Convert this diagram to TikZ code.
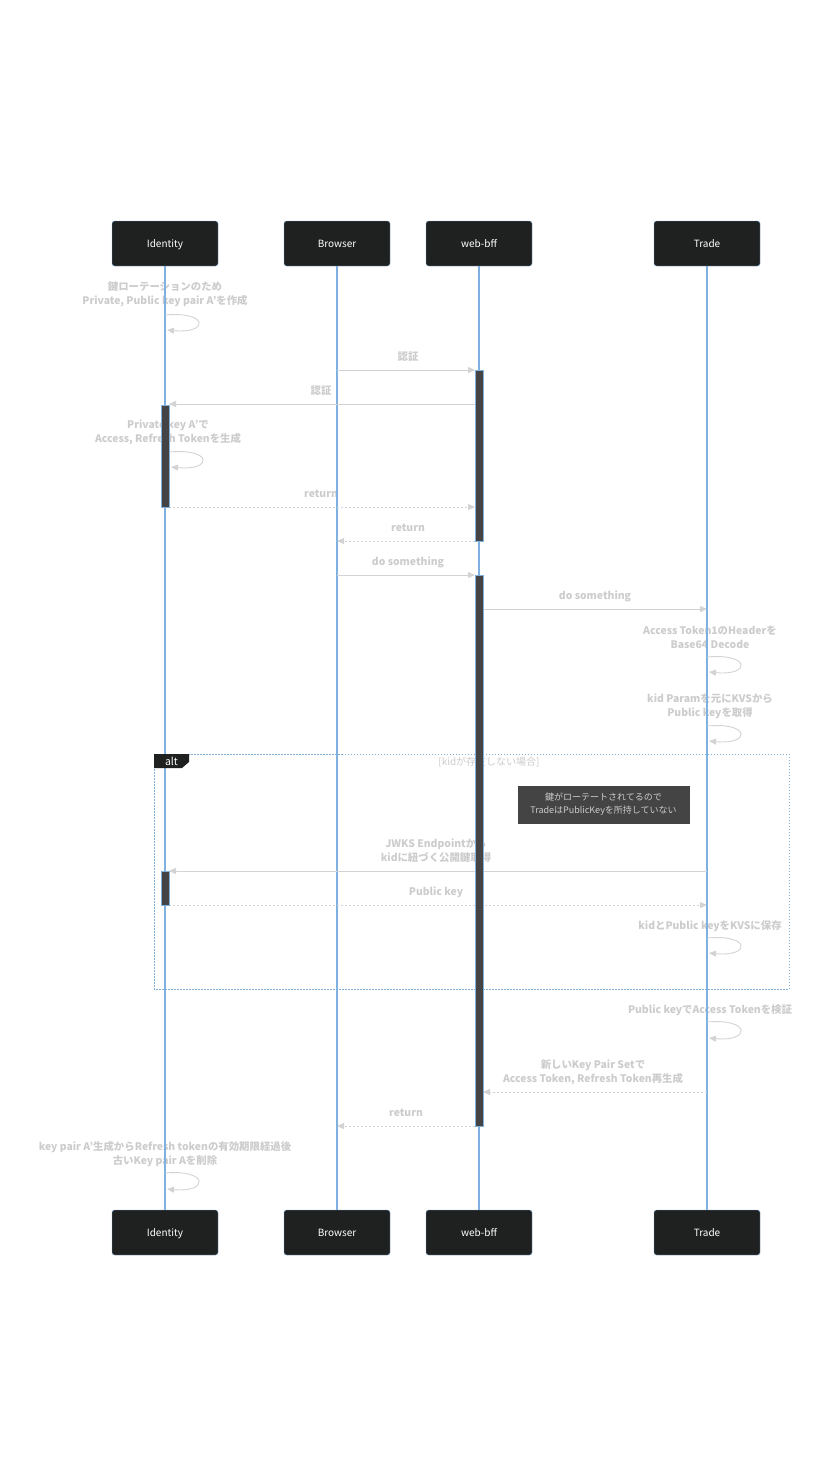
\documentclass[tikz,border=0pt]{standalone}
\usepackage{fontspec}
\setmainfont{Noto Sans CJK JP}
\usetikzlibrary{arrows.meta}
\definecolor{actfill}{HTML}{1F2020}
\definecolor{actborder}{HTML}{81B1DB}
\definecolor{lifeline}{HTML}{7EB0E2}
\definecolor{msgtxt}{HTML}{CCCCCC}
\definecolor{msgline}{HTML}{D3D3D3}
\definecolor{barfill}{HTML}{444444}
\tikzset{
  actor/.style={draw=actborder, fill=actfill, rounded corners=2.5pt, minimum width=106pt, minimum height=45pt, inner sep=0pt, text=white, font=\fontsize{10}{12}\selectfont, text depth=0pt, text height=7pt},
  msgtext/.style={text=msgtxt, align=center, inner sep=0pt, font=\bfseries\fontsize{10.4}{14}\selectfont},
  msg/.style={draw=msgline, line width=0.9pt, -{Triangle[length=7pt,width=6pt]}},
  reply/.style={msg, dash pattern=on 2pt off 2pt},
  selfloop/.style={draw=msgline, line width=0.9pt, -{Triangle[length=7pt,width=6pt]}},
  lline/.style={draw=lifeline, line width=1.2pt},
  bar/.style={draw=actborder, fill=barfill, line width=0.6pt},
}
\begin{document}
\begin{tikzpicture}[x=1pt,y=-1pt]
\useasboundingbox (0,0) rectangle (828,1477);
\def\xI{165}\def\xB{337}\def\xW{479}\def\xT{707}

% message texts (drawn first, lines drawn over them)
\node[msgtext] (t1) at (\xI,294.5) {鍵ローテーションのため\\Private, Public key pair A'を作成};
\node[msgtext] (t2) at (408,357) {認証};
\node[msgtext] (t3) at (321,391) {認証};
\node[msgtext] (t4) at (168,432) {Private key A'で\\Access, Refresh Tokenを生成};
\node[msgtext] (t5) at (321,494) {return};
\node[msgtext] (t6) at (408,528) {return};
\node[msgtext] (t7) at (408,562) {do something};
\node[msgtext] (t8) at (595,596) {do something};
\node[msgtext] (t9) at (710,637) {Access Token1のHeaderを\\Base64 Decode};
\node[msgtext] (t10) at (710,706) {kid Paramを元にKVSから\\Public keyを取得};
\node[msgtext] (t11) at (436,851) {JWKS Endpointから\\kidに紐づく公開鍵取得};
\node[msgtext] (t12) at (436,892) {Public key};
\node[msgtext] (t13) at (710,926) {kidとPublic keyをKVSに保存};
\node[msgtext] (t14) at (710,1010) {Public keyでAccess Tokenを検証};
\node[msgtext] (t15) at (593,1072) {新しいKey Pair Setで\\Access Token, Refresh Token再生成};
\node[msgtext] (t16) at (406,1113) {return};
\node[msgtext] (t17) at (165,1154) {key pair A'生成からRefresh tokenの有効期限経過後\\古いKey pair Aを削除};

% actors
\node[actor] (idT) at (\xI,243.5) {Identity};
\node[actor] (brT) at (\xB,243.5) {Browser};
\node[actor] (wbT) at (\xW,243.5) {web-bff};
\node[actor] (trT) at (\xT,243.5) {Trade};
\node[actor] (idB) at (\xI,1232.5) {Identity};
\node[actor] (brB) at (\xB,1232.5) {Browser};
\node[actor] (wbB) at (\xW,1232.5) {web-bff};
\node[actor] (trB) at (\xT,1232.5) {Trade};

% lifelines
\draw[lline] (idT) -- (idB);
\draw[lline] (brT) -- (brB);
\draw[lline] (wbT) -- (wbB);
\draw[lline] (trT) -- (trB);

% alt frame
\coordinate (altNW) at (154,754);
\coordinate (altSE) at (789,989);
\draw[draw=actborder, line width=0.9pt, dash pattern=on 1.5pt off 1.5pt] (altNW) rectangle (altSE);
\fill[actfill] (154,754) -- (189,754) -- (189,762) -- (182,768) -- (154,768) -- cycle;
\node[text=white, inner sep=0pt, font=\fontsize{10.5}{12}\selectfont] (altlbl) at (171.5,761.5) {alt};
\node[text=msgtxt, inner sep=0pt, font=\fontsize{10}{12}\selectfont] (altcond) at (489,762) {[kidが存在しない場合]};

% note
\node[fill=barfill, draw=barfill, minimum width=171pt, minimum height=37pt, inner sep=0pt, align=center, text=msgtxt, font=\fontsize{9}{13}\selectfont] (note) at (603.5,804.5) {鍵がローテートされてるので\\TradeはPublicKeyを所持していない};

% endpoints
\coordinate (a1) at (\xB,370); \coordinate (b1) at (475,370);
\coordinate (a2) at (475,404); \coordinate (b2) at (169,404);
\coordinate (a3) at (169,507); \coordinate (b3) at (475,507);
\coordinate (a4) at (475,541); \coordinate (b4) at (\xB,541);
\coordinate (a5) at (\xB,575); \coordinate (b5) at (475,575);
\coordinate (a6) at (483,609); \coordinate (b6) at (\xT,609);
\coordinate (a7) at (\xT,871); \coordinate (b7) at (169,871);
\coordinate (a8) at (169,905); \coordinate (b8) at (\xT,905);
\coordinate (a9) at (\xT,1092); \coordinate (b9) at (483,1092);
\coordinate (a10) at (475,1126); \coordinate (b10) at (\xB,1126);

\draw[msg] (a1) -- (b1);
\draw[msg] (a2) -- (b2);
\draw[reply] (a3) -- (b3);
\draw[reply] (a4) -- (b4);
\draw[msg] (a5) -- (b5);
\draw[msg] (a6) -- (b6);
\draw[msg] (a7) -- (b7);
\draw[reply] (a8) -- (b8);
\draw[reply] (a9) -- (b9);
\draw[reply] (a10) -- (b10);

% self loops
\coordinate (s1a) at (\xI,315); \coordinate (s1b) at (\xI+2,330);
\draw[selfloop] (s1a) .. controls (\xI+44,311) and (\xI+44,334) .. (s1b);
\coordinate (s2a) at (169,452); \coordinate (s2b) at (171,467);
\draw[selfloop] (s2a) .. controls (213,448) and (213,471) .. (s2b);
\coordinate (s3a) at (\xT,657); \coordinate (s3b) at (\xT+2,672);
\draw[selfloop] (s3a) .. controls (\xT+44,653) and (\xT+44,676) .. (s3b);
\coordinate (s4a) at (\xT,726); \coordinate (s4b) at (\xT+2,741);
\draw[selfloop] (s4a) .. controls (\xT+44,722) and (\xT+44,745) .. (s4b);
\coordinate (s5a) at (\xT,938); \coordinate (s5b) at (\xT+2,953);
\draw[selfloop] (s5a) .. controls (\xT+44,934) and (\xT+44,957) .. (s5b);
\coordinate (s6a) at (\xT,1022); \coordinate (s6b) at (\xT+2,1038);
\draw[selfloop] (s6a) .. controls (\xT+44,1018) and (\xT+44,1042) .. (s6b);
\coordinate (s7a) at (\xI,1173); \coordinate (s7b) at (\xI+2,1189);
\draw[selfloop] (s7a) .. controls (\xI+44,1169) and (\xI+44,1193) .. (s7b);

% activation bars
\node[bar, minimum width=8pt, minimum height=171pt, inner sep=0pt] (actW1) at (\xW,455.5) {};
\node[bar, minimum width=8pt, minimum height=102pt, inner sep=0pt] (actI1) at (\xI,456) {};
\node[bar, minimum width=8pt, minimum height=551pt, inner sep=0pt] (actW2) at (\xW,850.5) {};
\node[bar, minimum width=8pt, minimum height=34pt, inner sep=0pt] (actI2) at (\xI,888) {};
\end{tikzpicture}
\end{document}
